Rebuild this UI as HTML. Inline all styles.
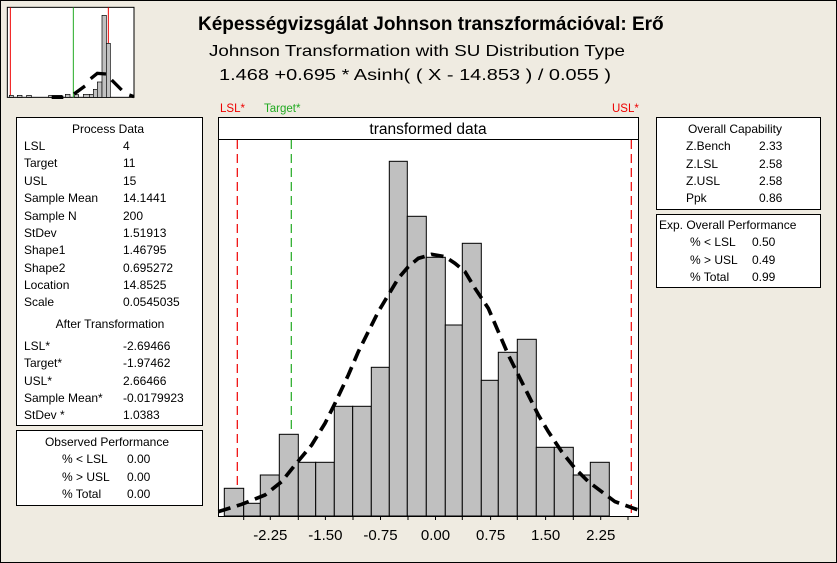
<!DOCTYPE html>
<html><head><meta charset="utf-8"><style>
html,body{margin:0;padding:0;background:#efebe1}
svg{display:block}
text{font-family:"Liberation Sans",sans-serif}
</style></head><body>
<svg width="837" height="563" viewBox="0 0 837 563" xmlns="http://www.w3.org/2000/svg">
<rect x="0.5" y="0.5" width="836" height="562" fill="#efebe1" stroke="#000"/>
<!-- thumbnail -->
<g transform="scale(0.33333)">
<rect x="22" y="22" width="380" height="270" fill="#fff" stroke="#000" stroke-width="3"/>
<line x1="31" y1="22" x2="31" y2="292" stroke="#e00" stroke-width="3"/>
<line x1="220" y1="22" x2="220" y2="292" stroke="#2a2" stroke-width="3"/>
<line x1="325" y1="22" x2="325" y2="292" stroke="#e00" stroke-width="3"/>
<g fill="#c0c0c0" stroke="#000" stroke-width="2">
<rect x="28" y="286" width="12" height="6"/><rect x="52" y="286" width="14" height="6"/><rect x="80" y="286" width="14" height="6"/>
<rect x="146" y="286" width="40" height="6"/><rect x="196" y="283" width="14" height="9"/><rect x="224" y="284" width="12" height="8"/>
<rect x="250" y="283" width="18" height="9"/><rect x="268" y="283" width="12" height="9"/><rect x="280" y="268" width="12" height="24"/>
<rect x="292" y="246" width="14" height="46"/><rect x="306" y="46" width="13" height="246"/><rect x="319" y="130" width="12" height="162"/>
</g>
<path d="M155,292 L190,292 M222,282 L255,258 M272,236 L292,220 L318,222 M335,240 L365,270 M388,285 L402,290" stroke="#000" stroke-width="10" fill="none"/>
</g>
<!-- titles -->
<text x="198" y="30" font-size="19" font-weight="bold">Képességvizsgálat Johnson transzformációval: Erő</text>
<text x="209" y="56" font-size="16" textLength="416" lengthAdjust="spacingAndGlyphs">Johnson Transformation with SU Distribution Type</text>
<text x="219" y="80" font-size="16" textLength="392" lengthAdjust="spacingAndGlyphs">1.468 +0.695 * Asinh( ( X - 14.853 ) / 0.055 )</text>
<!-- main plot -->
<text x="220" y="112" font-size="11.5" fill="#e00">LSL*</text>
<text x="264" y="112" font-size="11.5" fill="#2a2">Target*</text>
<text x="612" y="112" font-size="11.5" fill="#e00">USL*</text>
<rect x="218.5" y="117.5" width="420" height="399" fill="#fff" stroke="#000"/>
<line x1="218" y1="139.5" x2="638" y2="139.5" stroke="#000"/>
<text x="428" y="134" font-size="15.5" text-anchor="middle">transformed data</text>
<g stroke-dasharray="9,5" stroke-width="1.2">
<line x1="237.3" y1="140" x2="237.3" y2="516" stroke="#e00"/>
<line x1="291.3" y1="140" x2="291.3" y2="516" stroke="#2a2"/>
<line x1="631.3" y1="140" x2="631.3" y2="516" stroke="#e00"/>
</g>
<g fill="#c0c0c0" stroke="#000" stroke-width="1">
<rect x="224.3" y="488.3" width="19.4" height="27.7"/>
<rect x="243.7" y="503.3" width="16.6" height="12.7"/>
<rect x="260.3" y="475" width="19" height="41"/>
<rect x="279.3" y="434.3" width="19" height="81.7"/>
<rect x="298.3" y="462.3" width="17.4" height="53.7"/>
<rect x="315.7" y="462.3" width="18.6" height="53.7"/>
<rect x="334.3" y="406.3" width="18.4" height="109.7"/>
<rect x="352.7" y="406.3" width="18.6" height="109.7"/>
<rect x="371.3" y="367.3" width="18" height="148.7"/>
<rect x="389.3" y="161.3" width="18" height="354.7"/>
<rect x="407.3" y="216.3" width="19" height="299.7"/>
<rect x="426.3" y="257.3" width="19" height="258.7"/>
<rect x="445.3" y="325" width="17" height="191"/>
<rect x="462.3" y="243.3" width="19" height="272.7"/>
<rect x="481.3" y="380.3" width="17" height="135.7"/>
<rect x="498.3" y="352.3" width="19" height="163.7"/>
<rect x="517.3" y="339.3" width="19" height="176.7"/>
<rect x="536.3" y="447.3" width="18" height="68.7"/>
<rect x="554.3" y="447.3" width="19" height="68.7"/>
<rect x="573.3" y="475" width="17" height="41"/>
<rect x="590.3" y="462.3" width="19" height="53.7"/>
</g>
<g transform="translate(215,95) scale(0.33333)">
<path d="M10,1250 L80,1228 L150,1200 L200,1160 L240,1110 L290,1050 L330,985 L360,925 L400,840 L430,770 L460,710 L490,650 L520,600 L550,550 L580,515 L610,490 L650,478 L690,485 L720,505 L750,530 L780,580 L820,640 L850,710 L880,780 L910,840 L940,900 L970,960 L1000,1010 L1040,1070 L1080,1120 L1120,1160 L1160,1190 L1200,1220 L1270,1245" fill="none" stroke="#000" stroke-width="11" stroke-dasharray="38,20"/>
</g>
<g stroke="#000">
<line x1="243.7" y1="516" x2="243.7" y2="520"/><line x1="270.3" y1="516" x2="270.3" y2="520"/>
<line x1="298.3" y1="516" x2="298.3" y2="520"/><line x1="325.4" y1="516" x2="325.4" y2="520"/>
<line x1="353" y1="516" x2="353" y2="520"/><line x1="380.5" y1="516" x2="380.5" y2="520"/>
<line x1="408" y1="516" x2="408" y2="520"/><line x1="435.5" y1="516" x2="435.5" y2="520"/>
<line x1="462.3" y1="516" x2="462.3" y2="520"/><line x1="490.6" y1="516" x2="490.6" y2="520"/>
<line x1="517.3" y1="516" x2="517.3" y2="520"/><line x1="545.6" y1="516" x2="545.6" y2="520"/>
<line x1="573.3" y1="516" x2="573.3" y2="520"/><line x1="600.7" y1="516" x2="600.7" y2="520"/>
<line x1="628" y1="516" x2="628" y2="520"/>
</g>
<g font-size="15" text-anchor="middle">
<text x="270.3" y="540">-2.25</text><text x="325.4" y="540">-1.50</text><text x="380.5" y="540">-0.75</text>
<text x="435.5" y="540">0.00</text><text x="490.6" y="540">0.75</text><text x="545.6" y="540">1.50</text><text x="600.7" y="540">2.25</text>
</g>
<!-- left panels -->
<rect x="16.5" y="117.5" width="186" height="308" fill="#fff" stroke="#000"/>
<g font-size="12">
<text x="108" y="133" text-anchor="middle">Process Data</text>
<text x="24" y="150">LSL</text><text x="123" y="150">4</text>
<text x="24" y="167">Target</text><text x="123" y="167">11</text>
<text x="24" y="185">USL</text><text x="123" y="185">15</text>
<text x="24" y="202">Sample Mean</text><text x="123" y="202">14.1441</text>
<text x="24" y="220">Sample N</text><text x="123" y="220">200</text>
<text x="24" y="237">StDev</text><text x="123" y="237">1.51913</text>
<text x="24" y="254">Shape1</text><text x="123" y="254">1.46795</text>
<text x="24" y="272">Shape2</text><text x="123" y="272">0.695272</text>
<text x="24" y="289">Location</text><text x="123" y="289">14.8525</text>
<text x="24" y="306">Scale</text><text x="123" y="306">0.0545035</text>
<text x="110" y="328" text-anchor="middle">After Transformation</text>
<text x="24" y="350">LSL*</text><text x="123" y="350">-2.69466</text>
<text x="24" y="367">Target*</text><text x="123" y="367">-1.97462</text>
<text x="24" y="385">USL*</text><text x="123" y="385">2.66466</text>
<text x="24" y="402">Sample Mean*</text><text x="123" y="402">-0.0179923</text>
<text x="24" y="419">StDev *</text><text x="123" y="419">1.0383</text>
</g>
<rect x="16.5" y="430.5" width="186" height="75" fill="#fff" stroke="#000"/>
<g font-size="12">
<text x="107" y="446" text-anchor="middle">Observed Performance</text>
<text x="62" y="463">%  &lt; LSL</text><text x="127" y="463">0.00</text>
<text x="62" y="481">%  &gt; USL</text><text x="127" y="481">0.00</text>
<text x="62" y="498">%  Total</text><text x="127" y="498">0.00</text>
</g>
<!-- right panels -->
<rect x="656.5" y="117.5" width="164" height="92" fill="#fff" stroke="#000"/>
<g font-size="12">
<text x="735" y="133" text-anchor="middle">Overall Capability</text>
<text x="686" y="150">Z.Bench</text><text x="759" y="150">2.33</text>
<text x="686" y="168">Z.LSL</text><text x="759" y="168">2.58</text>
<text x="686" y="185">Z.USL</text><text x="759" y="185">2.58</text>
<text x="686" y="202">Ppk</text><text x="759" y="202">0.86</text>
</g>
<rect x="656.5" y="214.5" width="164" height="73" fill="#fff" stroke="#000"/>
<g font-size="12">
<text x="659" y="229">Exp. Overall Performance</text>
<text x="690" y="246">%  &lt; LSL</text><text x="752" y="246">0.50</text>
<text x="690" y="264">%  &gt; USL</text><text x="752" y="264">0.49</text>
<text x="690" y="281">%  Total</text><text x="752" y="281">0.99</text>
</g>
</svg>
</body></html>
